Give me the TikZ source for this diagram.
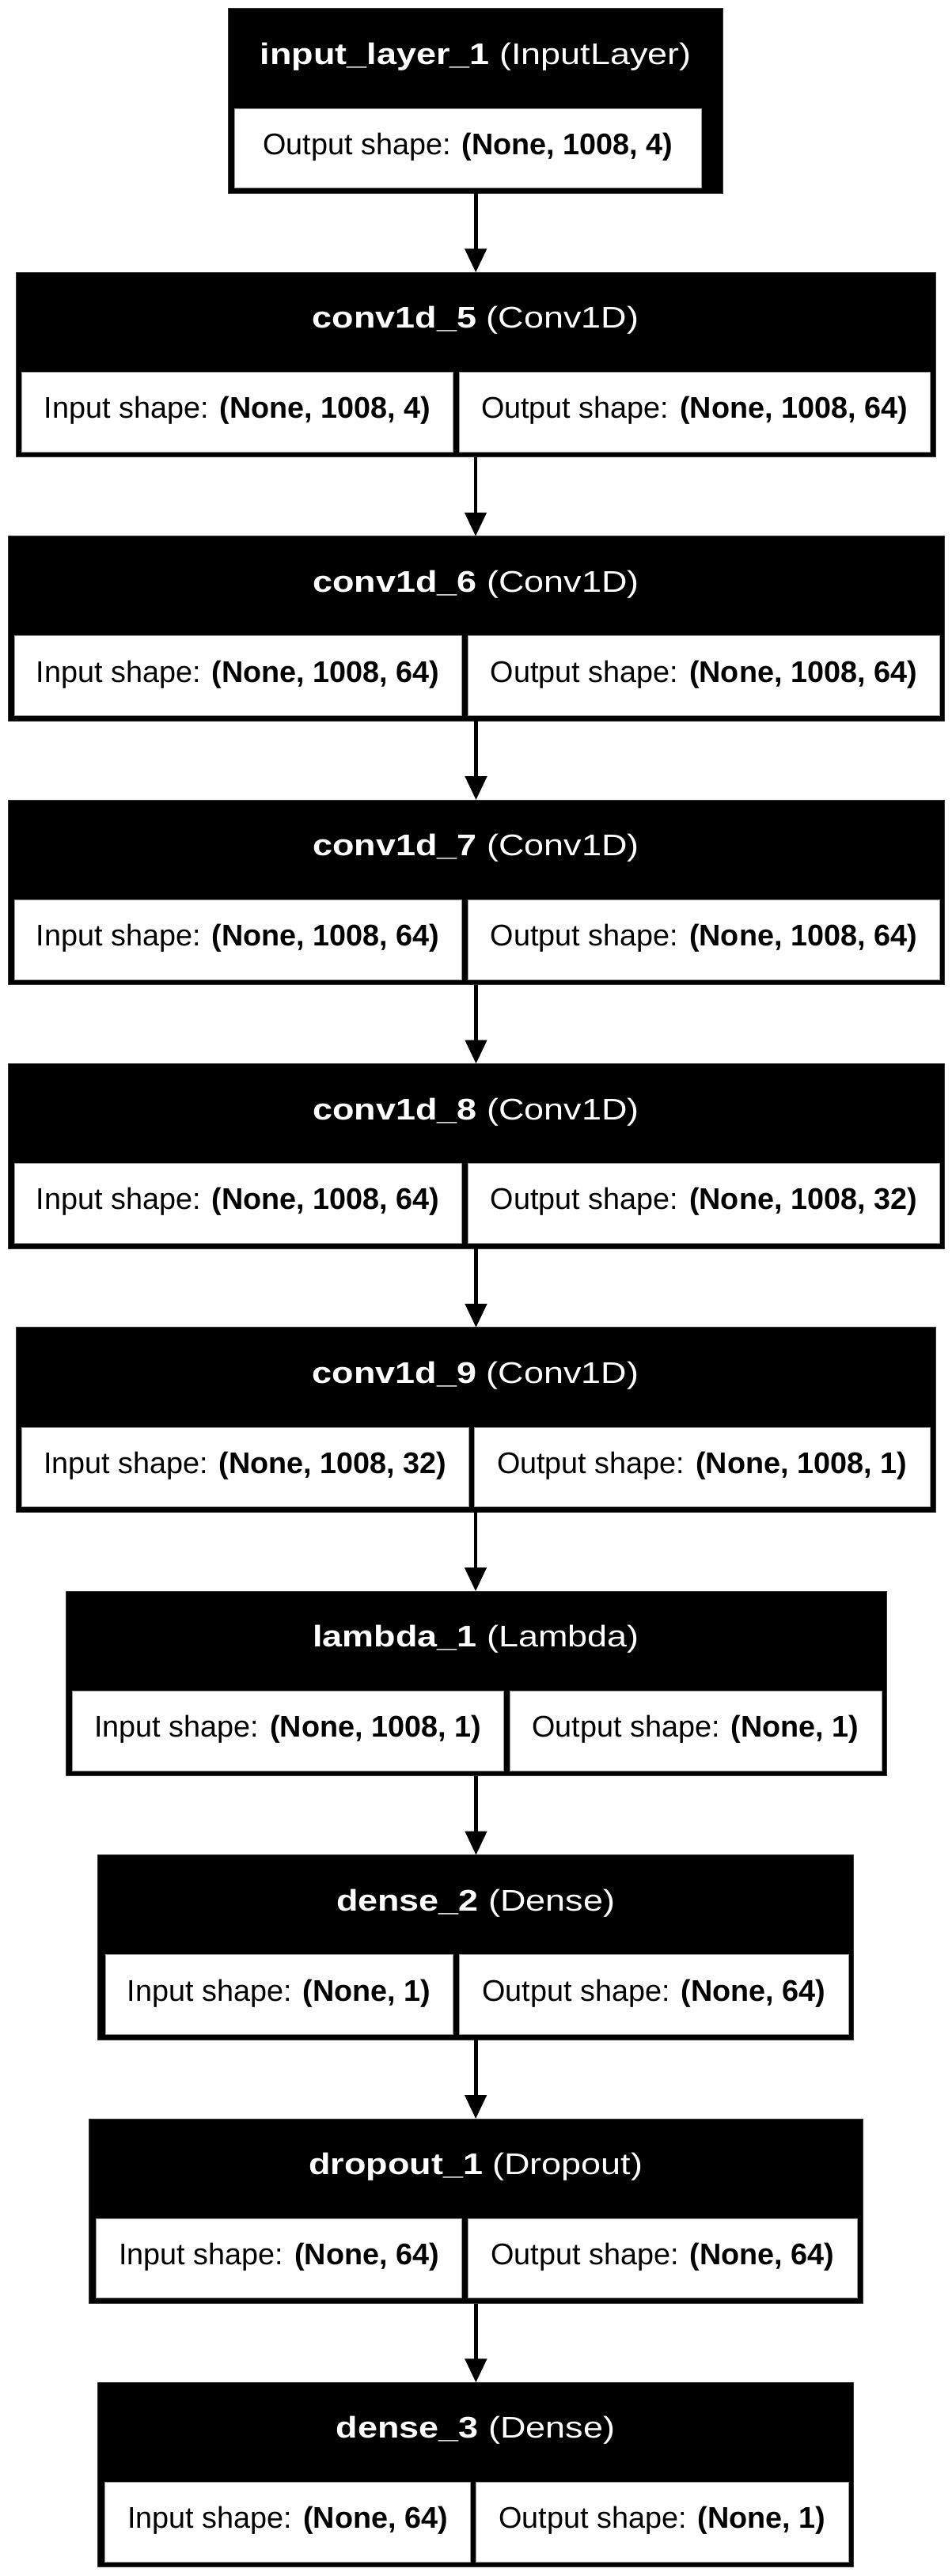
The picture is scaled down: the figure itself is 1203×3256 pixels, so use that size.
\documentclass[tikz,border=0pt]{standalone}
\usepackage{fontspec}
\setmainfont{Liberation Sans}
\usepackage{graphicx}
\usetikzlibrary{arrows.meta}
\newcommand{\hdr}[2]{\scalebox{1.19}[1]{\textbf{#1} #2}}
\newcommand{\shp}[2]{#1 shape: \textbf{#2}}
\begin{document}
\begin{tikzpicture}[x=0.36pt,y=-0.36pt,
  font=\fontsize{13.6pt}{15.5pt}\selectfont,
  obox/.style={fill=black, draw=black!80, line width=0.36pt, inner sep=0pt, outer sep=0pt, anchor=north west, minimum height=233.5*0.36pt},
  cbox/.style={fill=white, draw=black!40, line width=0.36pt, inner sep=0pt, outer sep=0pt, anchor=north west, minimum height=100.7*0.36pt, text height=8.6pt, text depth=3.0pt},
  htext/.style={anchor=base, text=white, inner sep=0pt},
  arrow/.style={line width=1.75pt, -{Triangle[length=10.8pt, width=9.7pt]}}]
\fill[white] (0,0) rectangle (1203,3256);
\useasboundingbox (0,0) rectangle (1203,3256);

% input_layer_1
\node[obox, minimum width=625*0.36pt] (L0) at (288.7,11) {};
\node[htext] (H0) at (601.2,81.5) {\hdr{input\_layer\_1}{(InputLayer)}};
\node[cbox, minimum width=589.3*0.36pt] (A0) at (296.7,137.2) {\shp{Output}{(None, 1008, 4)}};

% conv1d_5
\node[obox, minimum width=1162*0.36pt] (L1) at (20,344.38) {};
\node[htext] (H1) at (601,414.88) {\hdr{conv1d\_5}{(Conv1D)}};
\node[cbox, minimum width=545.1*0.36pt] (A1) at (27.6,470.58) {\shp{Input}{(None, 1008, 4)}};
\node[cbox, minimum width=595*0.36pt] (B1) at (580,470.58) {\shp{Output}{(None, 1008, 64)}};

% conv1d_6
\node[obox, minimum width=1183*0.36pt] (L2) at (10,677.76) {};
\node[htext] (H2) at (601.5,748.26) {\hdr{conv1d\_6}{(Conv1D)}};
\node[cbox, minimum width=564.6*0.36pt] (A2) at (18.4,803.96) {\shp{Input}{(None, 1008, 64)}};
\node[cbox, minimum width=595.5*0.36pt] (B2) at (591.5,803.96) {\shp{Output}{(None, 1008, 64)}};

% conv1d_7
\node[obox, minimum width=1183*0.36pt] (L3) at (10,1011.14) {};
\node[htext] (H3) at (601.5,1081.64) {\hdr{conv1d\_7}{(Conv1D)}};
\node[cbox, minimum width=564.6*0.36pt] (A3) at (18.4,1137.34) {\shp{Input}{(None, 1008, 64)}};
\node[cbox, minimum width=595.5*0.36pt] (B3) at (591.5,1137.34) {\shp{Output}{(None, 1008, 64)}};

% conv1d_8
\node[obox, minimum width=1183*0.36pt] (L4) at (10,1344.52) {};
\node[htext] (H4) at (601.5,1415.02) {\hdr{conv1d\_8}{(Conv1D)}};
\node[cbox, minimum width=564.6*0.36pt] (A4) at (18.4,1470.72) {\shp{Input}{(None, 1008, 64)}};
\node[cbox, minimum width=595.5*0.36pt] (B4) at (591.5,1470.72) {\shp{Output}{(None, 1008, 32)}};

% conv1d_9
\node[obox, minimum width=1162*0.36pt] (L5) at (20,1677.9) {};
\node[htext] (H5) at (601,1748.4) {\hdr{conv1d\_9}{(Conv1D)}};
\node[cbox, minimum width=564.4*0.36pt] (A5) at (27.6,1804.1) {\shp{Input}{(None, 1008, 32)}};
\node[cbox, minimum width=576*0.36pt] (B5) at (599,1804.1) {\shp{Output}{(None, 1008, 1)}};

% lambda_1
\node[obox, minimum width=1037*0.36pt] (L6) at (83,2011.28) {};
\node[htext] (H6) at (601.5,2081.78) {\hdr{lambda\_1}{(Lambda)}};
\node[cbox, minimum width=545*0.36pt] (A6) at (91,2137.48) {\shp{Input}{(None, 1008, 1)}};
\node[cbox, minimum width=470*0.36pt] (B6) at (644,2137.48) {\shp{Output}{(None, 1)}};

% dense_2
\node[obox, minimum width=955.3*0.36pt] (L7) at (123.5,2344.66) {};
\node[htext] (H7) at (601.2,2415.16) {\hdr{dense\_2}{(Dense)}};
\node[cbox, minimum width=439.5*0.36pt] (A7) at (133,2470.86) {\shp{Input}{(None, 1)}};
\node[cbox, minimum width=492.5*0.36pt] (B7) at (580,2470.86) {\shp{Output}{(None, 64)}};

% dropout_1
\node[obox, minimum width=977.7*0.36pt] (L8) at (112.5,2678.04) {};
\node[htext] (H8) at (601.3,2748.54) {\hdr{dropout\_1}{(Dropout)}};
\node[cbox, minimum width=462.2*0.36pt] (A8) at (121.6,2804.24) {\shp{Input}{(None, 64)}};
\node[cbox, minimum width=492.6*0.36pt] (B8) at (591.2,2804.24) {\shp{Output}{(None, 64)}};

% dense_3
\node[obox, minimum width=955.3*0.36pt] (L9) at (123.5,3011.42) {};
\node[htext] (H9) at (601.1,3081.92) {\hdr{dense\_3}{(Dense)}};
\node[cbox, minimum width=462.6*0.36pt] (A9) at (132.2,3137.62) {\shp{Input}{(None, 64)}};
\node[cbox, minimum width=470.5*0.36pt] (B9) at (601.8,3137.62) {\shp{Output}{(None, 1)}};

% connectors
\foreach \a/\b in {L0/L1,L1/L2,L2/L3,L3/L4,L4/L5,L5/L6,L6/L7,L7/L8,L8/L9}
  \draw[arrow] (\a.south) -- (\a.south |- \b.north);
\end{tikzpicture}
\end{document}
